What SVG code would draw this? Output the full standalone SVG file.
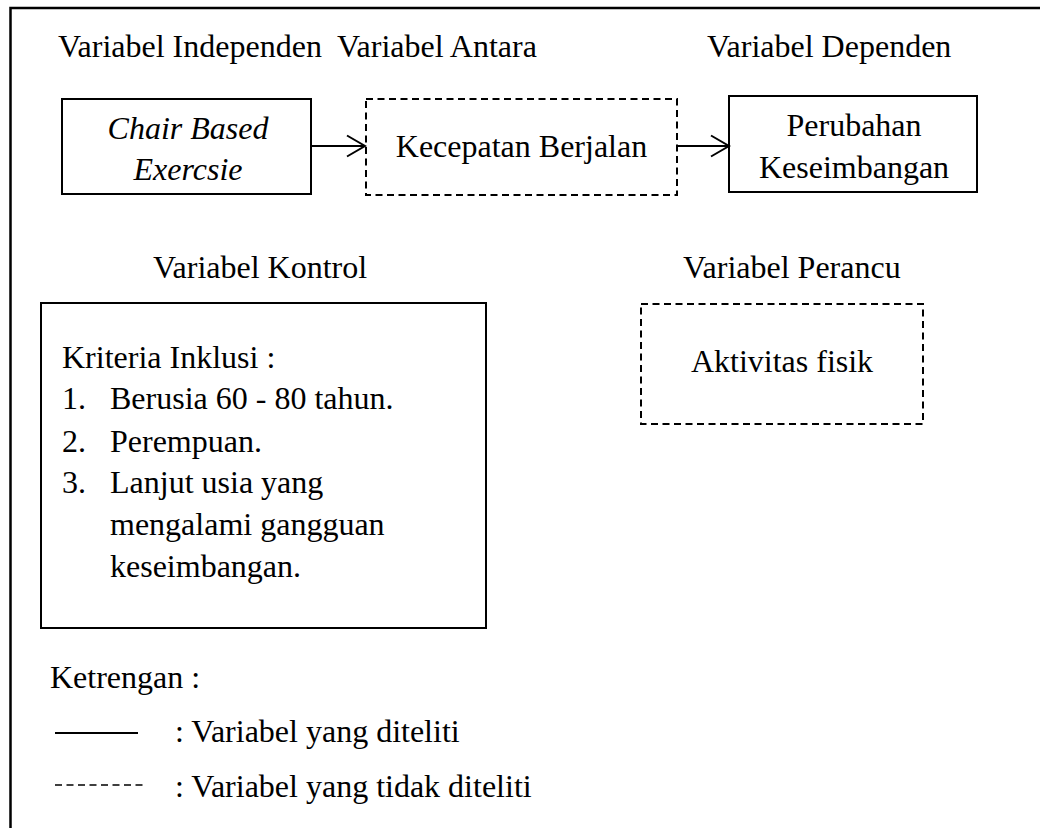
<svg xmlns="http://www.w3.org/2000/svg" width="1040" height="828" viewBox="0 0 1040 828">
<style>
text{font-family:"Liberation Serif","Times New Roman",serif;font-size:32px;fill:#000}
.c{text-anchor:middle}
.i{font-style:italic}
.solid{fill:#fff;stroke:#000;stroke-width:2}
.dash{fill:#fff;stroke:#000;stroke-width:2;stroke-dasharray:7 4.5}
.conn{fill:none;stroke:#000;stroke-width:2}
</style>
<rect width="1040" height="828" fill="#fff"/>
<g id="frame">
<polyline points="10.5,828 10.5,8 1040,8" fill="none" stroke="#000" stroke-width="2.5"/>
</g>
<g id="headings">
<text x="58" y="57">Variabel Independen</text>
<text x="337" y="57">Variabel Antara</text>
<text x="707" y="57">Variabel Dependen</text>
<text x="153" y="278">Variabel Kontrol</text>
<text x="683" y="278">Variabel Perancu</text>
</g>
<g id="node-chair">
<rect class="solid" x="62" y="99" width="249" height="95"/>
<text class="c i" x="188" y="139">Chair Based</text>
<text class="c i" x="188" y="180">Exercsie</text>
</g>
<g id="node-kecepatan">
<rect class="dash" x="366" y="99" width="311" height="96"/>
<text class="c" x="521.5" y="157">Kecepatan Berjalan</text>
</g>
<g id="node-perubahan">
<rect class="solid" x="729" y="96" width="248" height="96"/>
<text class="c" x="854" y="136">Perubahan</text>
<text class="c" x="854" y="178">Keseimbangan</text>
</g>
<g id="node-kontrol">
<rect class="solid" x="41" y="303" width="445" height="325"/>
<text x="62" y="368">Kriteria Inklusi :</text>
<text x="62" y="409">1.</text><text x="110" y="409">Berusia 60 - 80 tahun.</text>
<text x="62" y="452">2.</text><text x="110" y="452">Perempuan.</text>
<text x="62" y="493">3.</text><text x="110" y="493">Lanjut usia yang</text>
<text x="110" y="535">mengalami gangguan</text>
<text x="110" y="577">keseimbangan.</text>
</g>
<g id="node-perancu">
<rect class="dash" x="641" y="304" width="282" height="120"/>
<text class="c" x="782" y="372">Aktivitas fisik</text>
</g>
<g id="connectors">
<line class="conn" x1="311" y1="146" x2="364" y2="146"/>
<polyline class="conn" points="347,135.5 365,146 347,156.5"/>
<line class="conn" x1="677" y1="146" x2="728" y2="146"/>
<polyline class="conn" points="711,135.5 729,146 711,156.5"/>
</g>
<g id="legend">
<text x="50" y="688">Ketrengan :</text>
<line x1="55" y1="733" x2="138" y2="733" stroke="#000" stroke-width="2"/>
<text x="175" y="742">: Variabel yang diteliti</text>
<line x1="55" y1="785" x2="145" y2="785" stroke="#000" stroke-width="1.3" stroke-dasharray="7 4.5"/>
<text x="175" y="797">: Variabel yang tidak diteliti</text>
</g>
</svg>
